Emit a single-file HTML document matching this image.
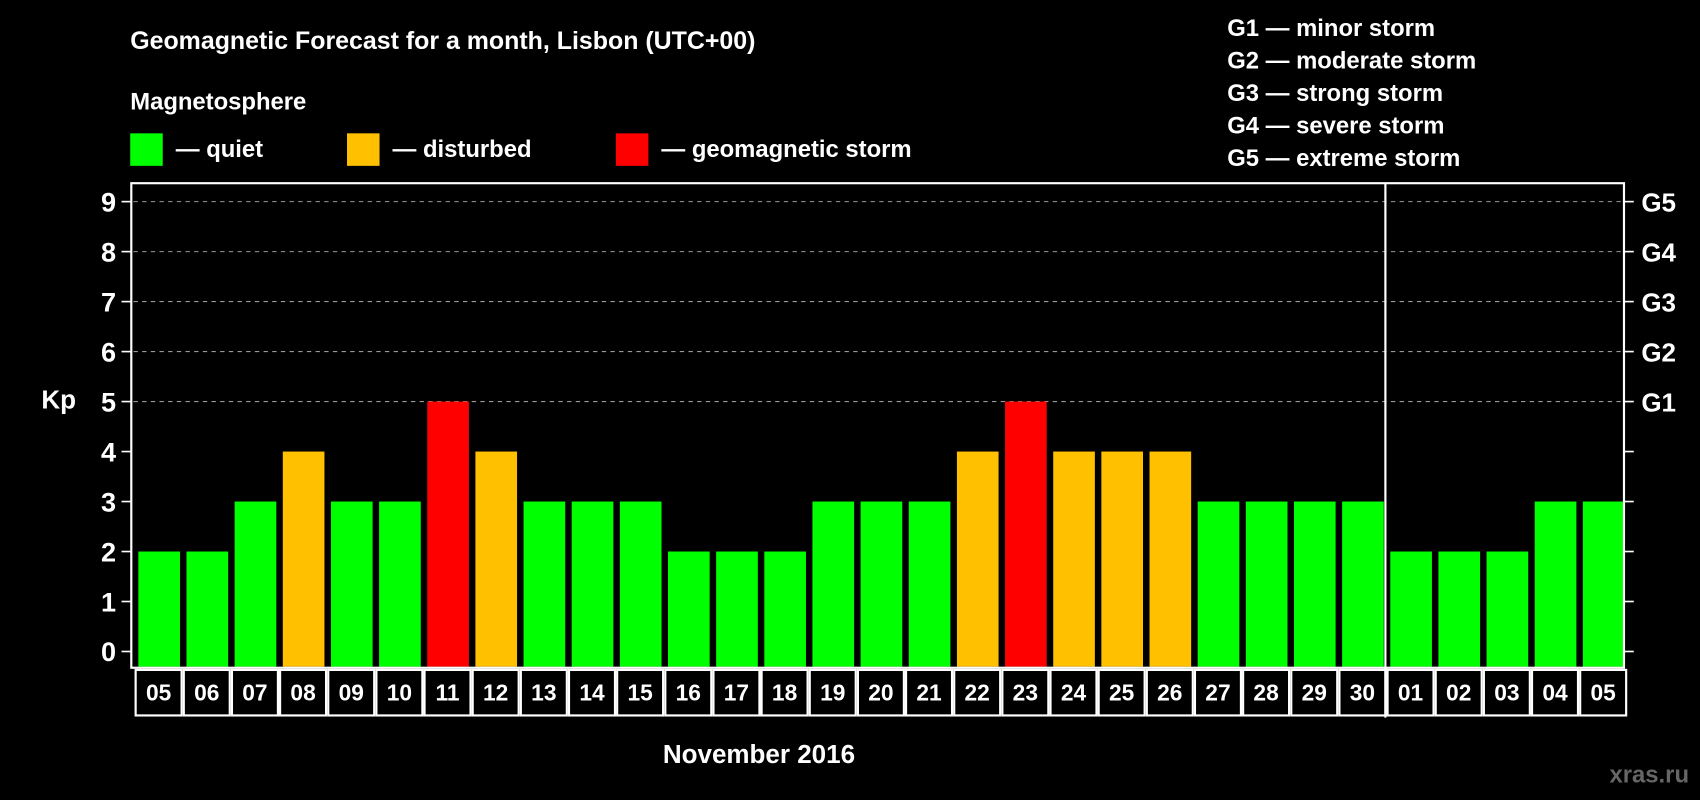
<!DOCTYPE html>
<html><head><meta charset="utf-8"><style>
html,body{margin:0;padding:0;background:#000;width:1700px;height:800px;overflow:hidden}
text{font-family:"Liberation Sans",Arial,sans-serif;font-weight:bold;fill:#fff}
</style></head><body>
<svg id="chart" width="1700" height="800" viewBox="0 0 1568 738" xmlns="http://www.w3.org/2000/svg">
<rect x="0" y="0" width="1568" height="738" fill="#000"/>
<text x="120" y="45" font-size="23">Geomagnetic Forecast for a month, Lisbon (UTC+00)</text>
<text x="120" y="101" font-size="22">Magnetosphere</text>
<rect x="120" y="123" width="30" height="30" fill="#00ff00"/>
<text x="162" y="145" font-size="22">— quiet</text>
<rect x="320" y="123" width="30" height="30" fill="#ffc000"/>
<text x="362" y="145" font-size="22">— disturbed</text>
<rect x="568" y="123" width="30" height="30" fill="#ff0000"/>
<text x="610" y="145" font-size="22">— geomagnetic storm</text>
<g font-size="22">
<text x="1132" y="33">G1 — minor storm</text>
<text x="1132" y="63">G2 — moderate storm</text>
<text x="1132" y="93">G3 — strong storm</text>
<text x="1132" y="123">G4 — severe storm</text>
<text x="1132" y="153">G5 — extreme storm</text>
</g>
<text x="38" y="377" font-size="24">Kp</text>
<text x="700" y="704" font-size="24" text-anchor="middle">November 2016</text>
<text x="1558" y="722" font-size="22" fill="#555" style="fill:#666" text-anchor="end">xras.ru</text>
<g id="grid"></g><g id="bars"></g><g id="axes"></g>
</svg>
<script>
const days=["05","06","07","08","09","10","11","12","13","14","15","16","17","18","19","20","21","22","23","24","25","26","27","28","29","30","01","02","03","04","05"];
const kp=[2,2,3,4,3,3,5,4,3,3,3,2,2,2,3,3,3,4,5,4,4,4,3,3,3,3,2,2,2,3,3];
const yTicks=[0,1,2,3,4,5,6,7,8,9];
const gLabels=["G1","G2","G3","G4","G5"];
const gLevels=[5,6,7,8,9];
const monthBreak=26;
const NS="http://www.w3.org/2000/svg";
const L=121,R=1498,T=169,B=616,Y0=601,Y9=186;
const step=(R-L)/days.length;
function y(v){return Y0-(Y0-Y9)*v/9;}
function x(i){return L+i*step;}
function mk(tag,attrs,parent){const e=document.createElementNS(NS,tag);for(const k in attrs)e.setAttribute(k,attrs[k]);parent.appendChild(e);return e;}
const grid=document.getElementById('grid'),bars=document.getElementById('bars'),axes=document.getElementById('axes');
yTicks.forEach(v=>{
 if(v>=5){const g=mk('line',{x1:L+2,x2:R-2,y1:y(v),y2:y(v),stroke:'#999','stroke-dasharray':'4,4','stroke-width':1},grid);
 
 }
 const t=mk('line',{x1:L-9,x2:L,y1:y(v),y2:y(v),stroke:'#fff','stroke-width':1.5},axes);
 
 
 const t2=mk('line',{x1:R,x2:R+9,y1:y(v),y2:y(v),stroke:'#fff','stroke-width':1.5},axes);
 
 
 const lb=mk('text',{x:L-14,y:y(v)+9,'font-size':25,'text-anchor':'end'},axes);lb.textContent=v;
 
 
});
gLabels.forEach((g,i)=>{
 const lb=mk('text',{x:R+16,y:y(gLevels[i])+9,'font-size':24},axes);lb.textContent=g;
 
 
});
kp.forEach((v,i)=>{
 const c=v>=5?'#ff0000':(v>=4?'#ffc000':'#00ff00');
 const r=mk('rect',{x:x(i)+6.5,y:y(v),width:step-6,height:Y0+14-y(v),fill:c},bars);
 
 
 const bx=mk('rect',{x:x(i)+4,y:B+2,width:step-2,height:42,fill:'none',stroke:'#fff','stroke-width':2},axes);
 
 
 const dl=mk('text',{x:x(i)+3+step/2,y:B+30,'font-size':21,'text-anchor':'middle'},axes);dl.textContent=days[i];
 
 
});
const fr=mk('rect',{x:L,y:T,width:R-L,height:B-T,fill:'none',stroke:'#fff','stroke-width':2},axes);


const mb=mk('line',{x1:x(monthBreak)+2,x2:x(monthBreak)+2,y1:T,y2:B+46,stroke:'#fff','stroke-width':2},axes);


</script>
</body></html>
